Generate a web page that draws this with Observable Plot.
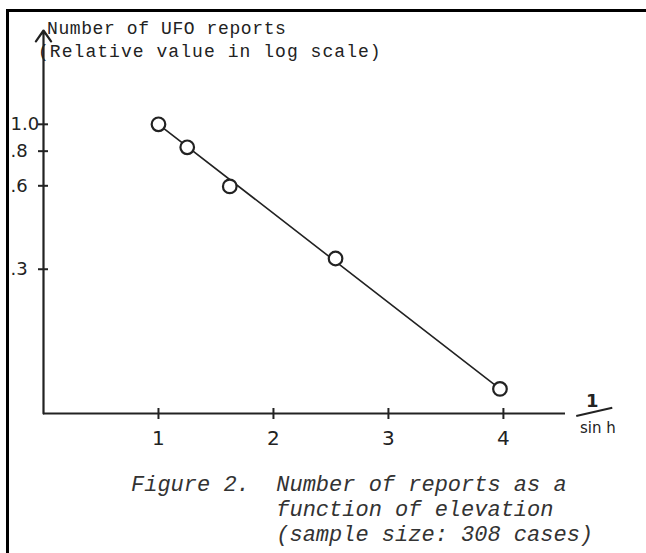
<!DOCTYPE html>
<html>
<head>
<meta charset="utf-8">
<script src="https://cdn.jsdelivr.net/npm/d3@7"></script>
<script src="https://cdn.jsdelivr.net/npm/@observablehq/plot@0.6"></script>
<style>
  html, body { margin: 0; padding: 0; background: #fff; }
  #page { position: relative; width: 646px; height: 553px; overflow: hidden; background: #fff; }
  #frameTop { position: absolute; left: 6px; top: 9px; width: 640px; height: 3px; background: #000; }
  #frameLeft { position: absolute; left: 6px; top: 9px; width: 3px; height: 544px; background: #000; }
  #chart { position: absolute; left: 0; top: 0; }
  .mono { position: absolute; font-family: "Liberation Mono", "DejaVu Sans Mono", monospace; color: #222; white-space: pre; margin: 0; }
  #t1 { left: 47px; top: 19px; font-size: 18px; line-height: 20px; letter-spacing: 0.6px; }
  #t2 { left: 38px; top: 42px; font-size: 18px; line-height: 20px; letter-spacing: 1.05px; }
  #cap { left: 131px; top: 473px; font-size: 22px; line-height: 25px; font-style: italic; color: #333; }
  .hand { position: absolute; font-family: "DejaVu Sans", sans-serif; color: #222; white-space: pre; line-height: 1; }
  #xl1 { left: 586px; top: 392px; font-size: 18px; font-weight: bold; }
  #xlbar { position: absolute; left: 576px; top: 415px; width: 37px; height: 0; border-top: 2px solid #222; transform: rotate(-13deg); transform-origin: 0 0; }
  #xl2 { left: 580px; top: 421px; font-size: 15px; }
</style>
</head>
<body>
<div id="page">
  <div id="frameTop"></div>
  <div id="frameLeft"></div>
  <div id="chart"></div>
  <div class="mono" id="t1">Number of UFO reports</div>
  <div class="mono" id="t2">(Relative value in log scale)</div>
  <div class="mono" id="cap">Figure 2.  Number of reports as a
           function of elevation
           (sample size: 308 cases)</div>
  <div class="hand" id="xl1">1</div>
  <div id="xlbar"></div>
  <div class="hand" id="xl2">sin h</div>
</div>
<script>
// Data
const invSinH = [1.0, 1.25, 1.62, 2.54, 3.97];          // x: 1 / sin h
const reports = [1.0, 0.826, 0.597, 0.328, 0.111];      // y: relative number of reports (log)
const fitX = [1.0, 3.97];                                // hand-drawn straight line
const fitY = [1.0, 0.111];
const xTicks = [1, 2, 3, 4];
const yTicks = [1.0, 0.8, 0.6, 0.3];
const yTickLabels = ["1.0", ".8", ".6", ".3"];

const xMax = 4.54;
const yMin = 0.0905;
const yMax = 2.18;

const points = invSinH.map((x, i) => ({x, y: reports[i]}));
const fit = fitX.map((x, i) => ({x, y: fitY[i]}));
const yLab = yTicks.map((y, i) => ({y, label: yTickLabels[i]}));

const ink = "#222";

const plot = Plot.plot({
  width: 646,
  height: 553,
  marginLeft: 43,
  marginRight: 81,
  marginTop: 30,
  marginBottom: 140,
  style: {background: "transparent", overflow: "visible"},
  x: {domain: [0, xMax], axis: null},
  y: {type: "log", domain: [yMin, yMax], axis: null},
  marks: [
    // x axis line
    Plot.ruleY([yMin], {stroke: ink, strokeWidth: 2.2}),
    // y axis with arrow
    Plot.arrow([0], {x1: 0, y1: yMin, x2: 0, y2: yMax, stroke: ink, strokeWidth: 2.2, headLength: 9, headAngle: 70}),
    // y ticks crossing the axis
    Plot.ruleY(yTicks, {y: d => d, x1: 0, x2: 0, insetLeft: -5, insetRight: -5, stroke: ink, strokeWidth: 2}),
    // x ticks crossing the axis
    Plot.ruleX(xTicks, {x: d => d, y1: yMin, y2: yMin, insetTop: -5, insetBottom: -6, stroke: ink, strokeWidth: 2}),
    // y tick labels
    Plot.text(yLab, {x: 0, y: "y", text: "label", dx: -33, textAnchor: "start", fontSize: 18, fill: ink, fontFamily: "DejaVu Sans"}),
    // x tick labels
    Plot.text(xTicks, {x: d => d, y: yMin, text: d => String(d), dy: 25, fontSize: 20, fill: ink, fontFamily: "DejaVu Sans"}),
    // fitted line
    Plot.line(fit, {x: "x", y: "y", stroke: ink, strokeWidth: 1.6}),
    // data points
    Plot.dot(points, {x: "x", y: "y", r: 6.8, fill: "white", stroke: ink, strokeWidth: 2.2})
  ]
});
document.getElementById("chart").appendChild(plot);
</script>
</body>
</html>
